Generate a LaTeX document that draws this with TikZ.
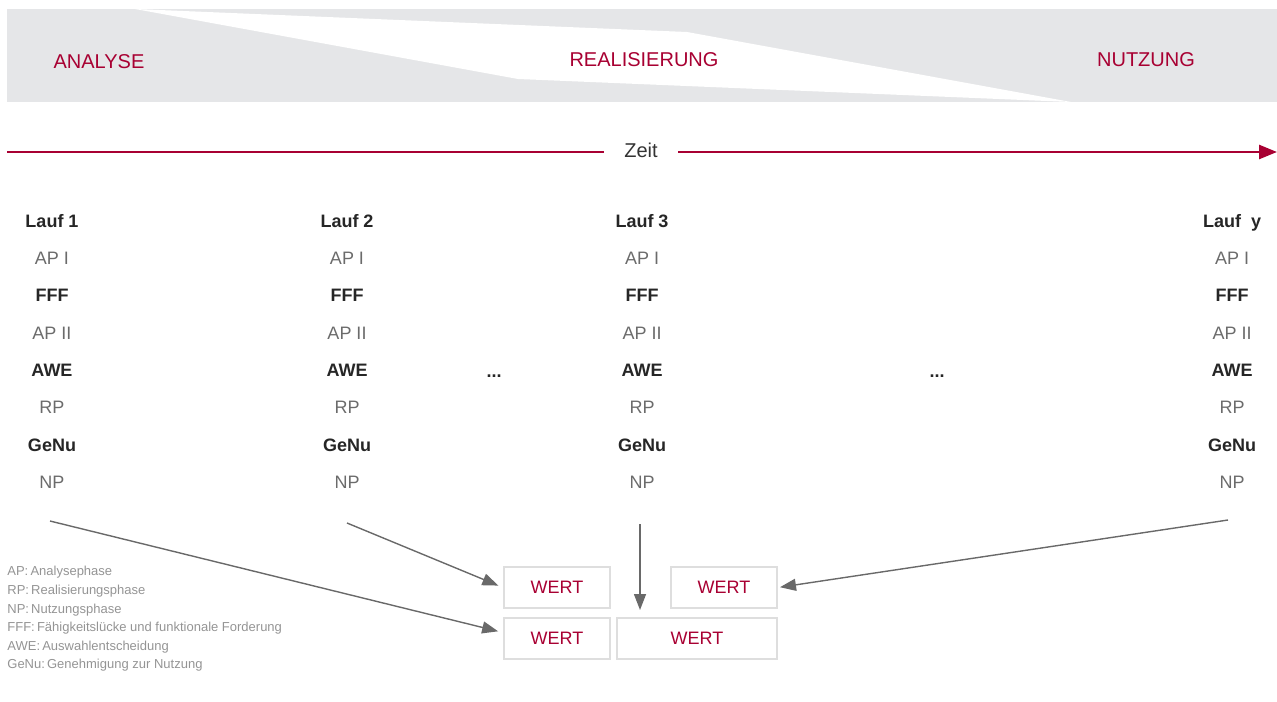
\documentclass[tikz,border=0pt]{standalone}
\usepackage{fontspec}
\setmainfont{Liberation Sans}
\usetikzlibrary{arrows.meta}
\frenchspacing
\definecolor{bwred}{RGB}{168,0,50}
\definecolor{bandgray}{RGB}{229,230,232}
\definecolor{boxgray}{RGB}{222,222,222}
\definecolor{feedgray}{RGB}{105,105,105}
\tikzset{
  phase/.style={
    text=bwred,
    font=\fontsize{10}{12}\selectfont,
    inner sep=0,
  },
  runbold/.style={
    text=black!85,
    font=\fontsize{9}{11}\selectfont\bfseries,
    inner sep=0,
    anchor=base,
  },
  runlight/.style={
    text=black!58,
    font=\fontsize{9}{11}\selectfont,
    inner sep=0,
    anchor=base,
  },
  wert/.style={
    rectangle,
    draw=boxgray,
    line width=1pt,
    minimum height=20.5pt,
    minimum width=53pt,
    inner sep=0,
    text=bwred,
    font=\fontsize{9}{11}\selectfont,
  },
  feed/.style={
    -{Triangle[length=8pt,width=6pt]},
    draw=feedgray,
    line width=0.7pt,
  },
  zeitline/.style={
    draw=bwred,
    line width=1.3pt,
  },
  legend/.style={
    text=black!42,
    font=\fontsize{6.5}{9.3}\selectfont,
    align=left,
    inner sep=0,
  }
}
\newcommand{\laufcol}[3]{%
  \node[runbold] (#2lauf) at (#1,227) {#3}; % title
  \node[runlight] (#2apa) at (#1,264) {AP I};
  \node[runbold] (#2fff) at (#1,301) {FFF};
  \node[runlight] (#2apb) at (#1,339) {AP II};
  \node[runbold] (#2awe) at (#1,376) {AWE};
  \node[runlight] (#2rp) at (#1,413) {RP};
  \node[runbold] (#2genu) at (#1,451) {GeNu};
  \node[runlight] (#2np) at (#1,488) {NP};
}

\begin{document}
\begin{tikzpicture}[x=0.5pt,y=-0.5pt]
    \useasboundingbox (0,0) rectangle (1277,701);

    % phases band
    \fill[bandgray] (7,9) rectangle (1277,102);
    \fill[white] (135,9) -- (687,32) -- (1071,102) -- (518,79) -- cycle;
    \node[phase] (analyse) at (99,62) {ANALYSE};
    \node[phase] (real) at (644,60) {REALISIERUNG};
    \node[phase] (nutz) at (1146,60) {NUTZUNG};

    % time axis
    \coordinate (zl) at (7,152);
    \coordinate (zr) at (1277,152);
    \node[text=black!80,font=\fontsize{10}{12}\selectfont,inner xsep=10pt,inner ysep=0] (zeit) at (641,150) {Zeit};
    \draw[zeitline] (zl) -- (zl -| zeit.west);
    \draw[zeitline,-{Triangle[length=9pt,width=7pt]}] (zr -| zeit.east) -- (zr);

    % runs
    \laufcol{52}{a}{Lauf 1}
    \laufcol{347}{b}{Lauf 2}
    \laufcol{642}{c}{Lauf 3}
    \laufcol{1232}{d}{Lauf~~y}
    \node[runbold] (dotsa) at (494,377) {...};
    \node[runbold] (dotsb) at (937,377) {...};

    % values
    \node[wert] (wa) at (557,587.5) {WERT};
    \node[wert] (wb) at (724,587.5) {WERT};
    \node[wert] (wc) at (557,638.5) {WERT};
    \node[wert,minimum width=80pt] (wd) at (697,638.5) {WERT};

    \coordinate (sa) at (50,521);
    \coordinate (sb) at (347,523);
    \coordinate (sc) at (640,524);
    \coordinate (sd) at (1228,520);
    \draw[feed,shorten >=2.5pt] (sa) -- ([yshift=3pt]wc.west);
    \draw[feed,shorten >=2.5pt] (sb) -- (wa.west);
    \draw[feed,shorten >=3.5pt] (sc) -- (sc |- wd.north);
    \draw[feed,shorten >=1pt] (sd) -- (wb.east);

    % legend
    \node[legend,anchor=north west] (leg) at (7,566) {AP:\,Analysephase\\
      RP:\,Realisierungsphase\\
      NP:\,Nutzungsphase\\
      FFF:\,Fähigkeitslücke und funktionale Forderung\\
      AWE:\,Auswahlentscheidung\\
      GeNu:\,Genehmigung zur Nutzung};
\end{tikzpicture}
\end{document}
